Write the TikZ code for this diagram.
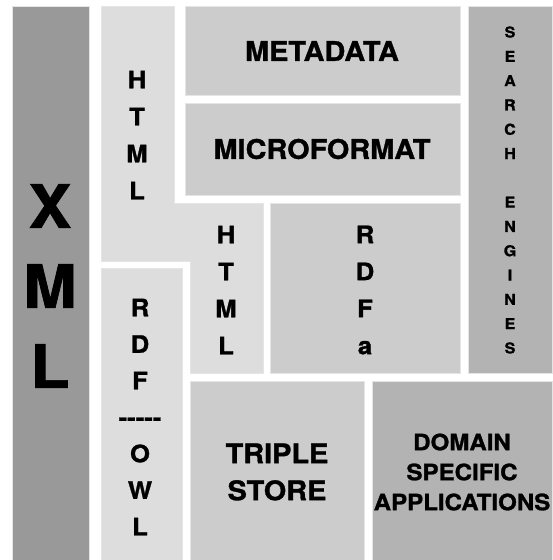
\documentclass[tikz,border=0pt]{standalone}
\usepackage{fontspec}
\setmainfont{TeX Gyre Heros}[BoldFeatures={FakeBold=1.2, FakeStretch=1.07}]
\definecolor{xmlfill}{HTML}{999999}
\definecolor{htmlfill}{HTML}{DDDDDD}
\definecolor{metafill}{HTML}{CCCCCC}
\definecolor{enginefill}{HTML}{B3B3B3}
\tikzset{
	block/.style={fill=#1, draw=white!90!black, line width=0.6pt},
	stack/.style={align=center, inner sep=0pt, font=\bfseries\fontsize{24}{37}\selectfont},
	blocktext/.style={align=center, inner sep=0pt, font=\bfseries\fontsize{27}{37}\selectfont}
}

\begin{document}
\begin{tikzpicture}[x=1pt, y=-1pt]
			%%%%% START %%%%%
			\useasboundingbox (0, 0) rectangle (552, 560);
			
			\draw[block=xmlfill] (12, 6) rectangle (89, 560);
			\draw[block=htmlfill] (101, 6) -- (174, 6) -- (174, 203) -- (263, 203) -- (263, 373) -- (190, 373) -- (190, 261) -- (101, 261) -- cycle;
			\draw[block=htmlfill] (101, 268) rectangle (182, 560);
			
			\draw[block=metafill] (185, 6) rectangle (460, 95);
			\draw[block=metafill] (185, 103) rectangle (460, 195);
			\draw[block=metafill] (270, 203) rectangle (460, 373);
			\draw[block=enginefill] (468, 6) rectangle (552, 373);
			
			\draw[block=metafill] (190, 381) rectangle (364, 560);
			\draw[block=enginefill] (372, 381) rectangle (552, 560);
			
			\node[stack, font=\bfseries\fontsize{60}{80}\selectfont] (xml) at (50, 286) {X\\M\\L};
			\node[stack] (htmltop) at (137, 135) {H\\T\\M\\L};
			\node[stack] (htmlbottom) at (226, 290) {H\\T\\M\\L};
			\node[stack] (rdfa) at (365, 290) {R\\D\\F\\a};
			\node[stack, font=\bfseries\fontsize{24}{36.5}\selectfont] (rdfowl) at (140, 417) {R\\D\\F\\-{}-{}-{}-{}-\\O\\W\\L};
			\node[stack, font=\bfseries\fontsize{15}{24.3}\selectfont] (engines) at (510, 190) {S\\E\\A\\R\\C\\H\\[24.3pt]E\\N\\G\\I\\N\\E\\S};
			
			\node[blocktext] (metadata) at (322, 51) {METADATA};
			\node[blocktext] (microformat) at (322, 149) {MICROFORMAT};
			\node[blocktext] (triplestore) at (277, 472) {TRIPLE\\STORE};
			\node[blocktext, font=\bfseries\fontsize{22.5}{30}\selectfont] (domain) at (462, 472) {DOMAIN\\SPECIFIC\\APPLICATIONS};
			
			%%%%% END %%%%%
\end{tikzpicture}
\end{document}
